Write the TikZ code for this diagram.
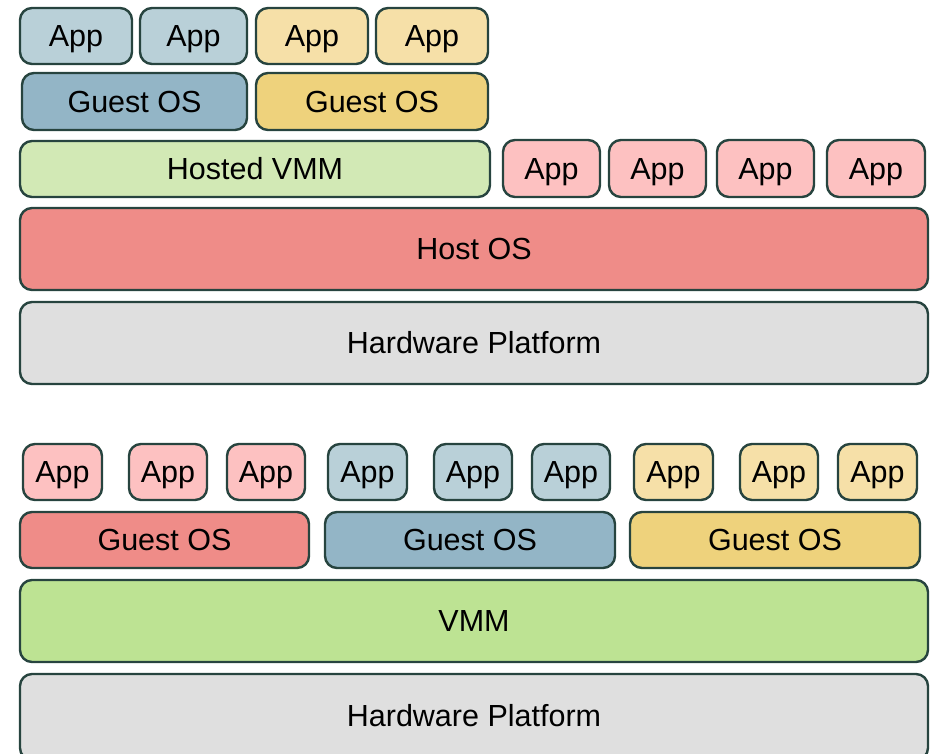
\documentclass[tikz,border=0pt]{standalone}
\usepackage{fontspec}
\setmainfont{Liberation Sans}
\definecolor{edge}{HTML}{27443F}
\definecolor{appblue}{HTML}{B9D0D8}
\definecolor{osblue}{HTML}{93B5C6}
\definecolor{appyellow}{HTML}{F6E0A8}
\definecolor{osyellow}{HTML}{EED27C}
\definecolor{apppink}{HTML}{FDC1C1}
\definecolor{osred}{HTML}{EF8C88}
\definecolor{vmmlight}{HTML}{D2E9B5}
\definecolor{vmmgreen}{HTML}{BDE393}
\definecolor{hwgray}{HTML}{DFDFDF}
\tikzset{
  label font/.style={font=\fontsize{30.5}{32}\selectfont, text=black,
    text height=21.8pt, text depth=0pt},
  box/.style={draw=edge, line width=2.4pt, rounded corners=12pt, inner sep=0pt, outer sep=0pt,
    label font},
}
% name, style, x1, y1, x2, y2, label  (y measured downwards)
\newcommand\layer[7]{%
  \node[box,#2,minimum width={(#5-#3)*1pt},minimum height={(#6-#4)*1pt}]
    (#1) at ({(#3+#5)/2},{-(#4+#6)/2}) {#7};}
\begin{document}
\begin{tikzpicture}[x=1pt,y=1pt]
\useasboundingbox (0,0) rectangle (935,-753);
\clip (0,0) rectangle (935,-753);
% hosted virtualisation stack
\layer{a1}{fill=appblue}{20}{8}{132}{64}{App}
\layer{a2}{fill=appblue}{140}{8}{247}{64}{App}
\layer{a3}{fill=appyellow}{256}{8}{368}{64}{App}
\layer{a4}{fill=appyellow}{376}{8}{488}{64}{App}
\layer{g1}{fill=osblue}{22}{73}{247}{130}{Guest OS}
\layer{g2}{fill=osyellow}{256}{73}{488}{130}{Guest OS}
\layer{hvmm}{fill=vmmlight}{20}{141}{490}{197}{Hosted VMM}
\layer{p1}{fill=apppink}{503}{140}{600}{197}{App}
\layer{p2}{fill=apppink}{609}{140}{706}{197}{App}
\layer{p3}{fill=apppink}{717}{140}{814}{197}{App}
\layer{p4}{fill=apppink}{827}{140}{925}{197}{App}
\layer{host}{fill=osred}{20}{208}{928}{290}{Host OS}
\layer{hw1}{fill=hwgray}{20}{302}{928}{384}{Hardware Platform}
% bare-metal virtualisation stack
\layer{b1}{fill=apppink}{23}{444}{102}{500}{App}
\layer{b2}{fill=apppink}{129}{444}{207}{500}{App}
\layer{b3}{fill=apppink}{227}{444}{305}{500}{App}
\layer{b4}{fill=appblue}{328}{444}{407}{500}{App}
\layer{b5}{fill=appblue}{434}{444}{512}{500}{App}
\layer{b6}{fill=appblue}{532}{444}{610}{500}{App}
\layer{b7}{fill=appyellow}{634}{444}{713}{500}{App}
\layer{b8}{fill=appyellow}{740}{444}{818}{500}{App}
\layer{b9}{fill=appyellow}{838}{444}{917}{500}{App}
\layer{o1}{fill=osred}{20}{512}{309}{568}{Guest OS}
\layer{o2}{fill=osblue}{325}{512}{615}{568}{Guest OS}
\layer{o3}{fill=osyellow}{630}{512}{920}{568}{Guest OS}
\layer{vmm}{fill=vmmgreen}{20}{580}{928}{662}{VMM}
\node[box,fill=hwgray,minimum width=908pt,minimum height=86pt,anchor=north west]
  (hw2) at (20,-674) {};
\node[label font] (hw2label) at (474,-716) {Hardware Platform};
\end{tikzpicture}
\end{document}
